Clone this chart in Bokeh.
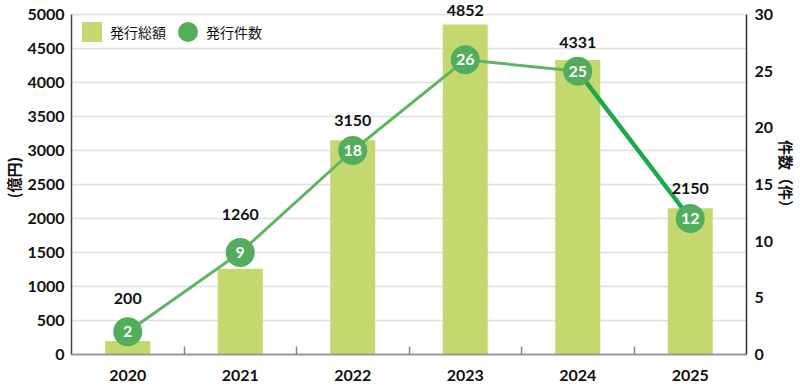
from bokeh.plotting import figure
from bokeh.models import (ColumnDataSource, Range1d, LinearAxis, FixedTicker,
                          LabelSet, Legend, LegendItem)
from bokeh.core.properties import value
from bokeh.embed import file_html
from bokeh.resources import INLINE

# ---- data ----
years = [2020, 2021, 2022, 2023, 2024, 2025]
amounts = [200, 1260, 3150, 4852, 4331, 2150]          # 発行総額 (億円)
counts = [2, 9, 18, 26, 25, 12]                        # 発行件数 (件)
amount_ticks = [0, 500, 1000, 1500, 2000, 2500, 3000, 3500, 4000, 4500, 5000]
count_ticks = [0, 5, 10, 15, 20, 25, 30]
label_lift = [42, 54, 20, 14, 17, 20]                  # px above bar top for value labels

NUM_FONT = "Lato"
JP_FONT = "Noto Sans CJK JP"
BAR_COLOR = "#c3d96f"
DOT_COLOR = "#52ad5c"
LINE_COLOR = "#5fb564"
LINE_LAST = "#1ea84a"
TEXT = "#111111"

# head-room above the top tick so the tallest value label is not clipped
HEADROOM = 354 / 340
amount_top = amount_ticks[-1] * HEADROOM
count_top = count_ticks[-1] * HEADROOM

src = ColumnDataSource(dict(
    year=years, amount=amounts, amount_text=[str(a) for a in amounts],
    lift=label_lift, count=counts, count_text=[str(c) for c in counts],
))

p = figure(width=800, height=391, output_backend="svg", toolbar_location=None,
           x_range=Range1d(years[0] - 0.5, years[-1] + 0.5),
           y_range=Range1d(amount_ticks[0], amount_top),
           min_border_left=70, min_border_right=53, min_border_top=0,
           min_border_bottom=37)
p.extra_y_ranges = {"count": Range1d(count_ticks[0], count_top)}
p.outline_line_color = None


def style_num_axis(ax):
    ax.major_label_text_font = NUM_FONT
    ax.major_label_text_font_style = "bold"
    ax.major_label_text_font_size = "16px"
    ax.major_label_text_color = TEXT
    ax.major_tick_in = 0
    ax.major_tick_out = 0
    ax.minor_tick_in = 0
    ax.minor_tick_out = 0


def style_title(ax):
    ax.axis_label_text_font = JP_FONT
    ax.axis_label_text_font_style = "bold"
    ax.axis_label_text_font_size = "15px"
    ax.axis_label_text_color = TEXT


# left axis
ya = p.yaxis[0]
ya.ticker = FixedTicker(ticks=amount_ticks)
ya.bounds = (amount_ticks[0], amount_ticks[-1])
style_num_axis(ya)
ya.major_label_standoff = 7
ya.axis_line_color = "#444444"
ya.axis_line_width = 1.5
ya.axis_label = "(億円)"
style_title(ya)
ya.axis_label_standoff = 0

# right axis
ra = LinearAxis(y_range_name="count", ticker=FixedTicker(ticks=count_ticks),
                bounds=(count_ticks[0], count_ticks[-1]), axis_label="件数（件）")
style_num_axis(ra)
ra.major_label_standoff = 8
ra.axis_line_color = "#333333"
ra.axis_line_width = 1.5
style_title(ra)
ra.axis_label_standoff = 0
p.add_layout(ra, "right")

# bottom axis
xa = p.xaxis[0]
xa.ticker = FixedTicker(ticks=years, minor_ticks=[y + 0.5 for y in years[:-1]])
style_num_axis(xa)
xa.major_label_standoff = 15
xa.minor_tick_in = 8
xa.minor_tick_out = 0
xa.minor_tick_line_color = "#888888"
xa.minor_tick_line_width = 1.5
xa.axis_line_color = "#999999"
xa.axis_line_width = 2

p.xgrid.grid_line_color = None
p.ygrid.ticker = FixedTicker(ticks=amount_ticks)
p.ygrid.grid_line_color = "#e0e0e0"
p.ygrid.grid_line_width = 1.5

# bars
bars = p.vbar(x="year", top="amount", width=0.4, source=src,
              fill_color=BAR_COLOR, line_color=None)

# line (two segments: last one emphasized)
p.line(years[:-1], counts[:-1], y_range_name="count",
       line_color=LINE_COLOR, line_width=3)
p.line(years[-2:], counts[-2:], y_range_name="count",
       line_color=LINE_LAST, line_width=4.5)

dots = p.scatter(x="year", y="count", source=src, y_range_name="count",
                 size=29, marker="circle", fill_color=DOT_COLOR, line_color=None)

p.text(x="year", y="count", text="count_text", source=src, y_range_name="count",
       text_align="center", text_baseline="middle", text_color="white",
       text_font=value(NUM_FONT), text_font_style="bold", text_font_size="16px")

labels = LabelSet(x="year", y="amount", text="amount_text", source=src,
                  y_offset="lift", text_align="center", text_baseline="middle",
                  text_font=value(NUM_FONT), text_font_style="bold",
                  text_font_size="16px", text_color=TEXT)
p.add_layout(labels)

# legend: bar swatch from the bars (drawn at 80% of the box), circle swatch from an
# undrawn (NaN) screen-sized ellipse, whose legend glyph is also 80% of the box
nan = float("nan")
sw_dot = p.ellipse(x=[nan], y=[nan], width=20, height=20,
                   width_units="screen", height_units="screen",
                   fill_color=DOT_COLOR, line_color=None)
legend = Legend(items=[LegendItem(label="発行総額", renderers=[bars]),
                       LegendItem(label="発行件数", renderers=[sw_dot])],
                orientation="horizontal", location=(8, 310),
                border_line_color=None, background_fill_alpha=0,
                label_text_font=JP_FONT, label_text_font_size="14px",
                label_text_color=TEXT, label_text_baseline="middle",
                glyph_width=25, glyph_height=25, label_standoff=6,
                spacing=9, padding=0, margin=0)
p.add_layout(legend)

open("out.html", "w").write(file_html(p, INLINE))
